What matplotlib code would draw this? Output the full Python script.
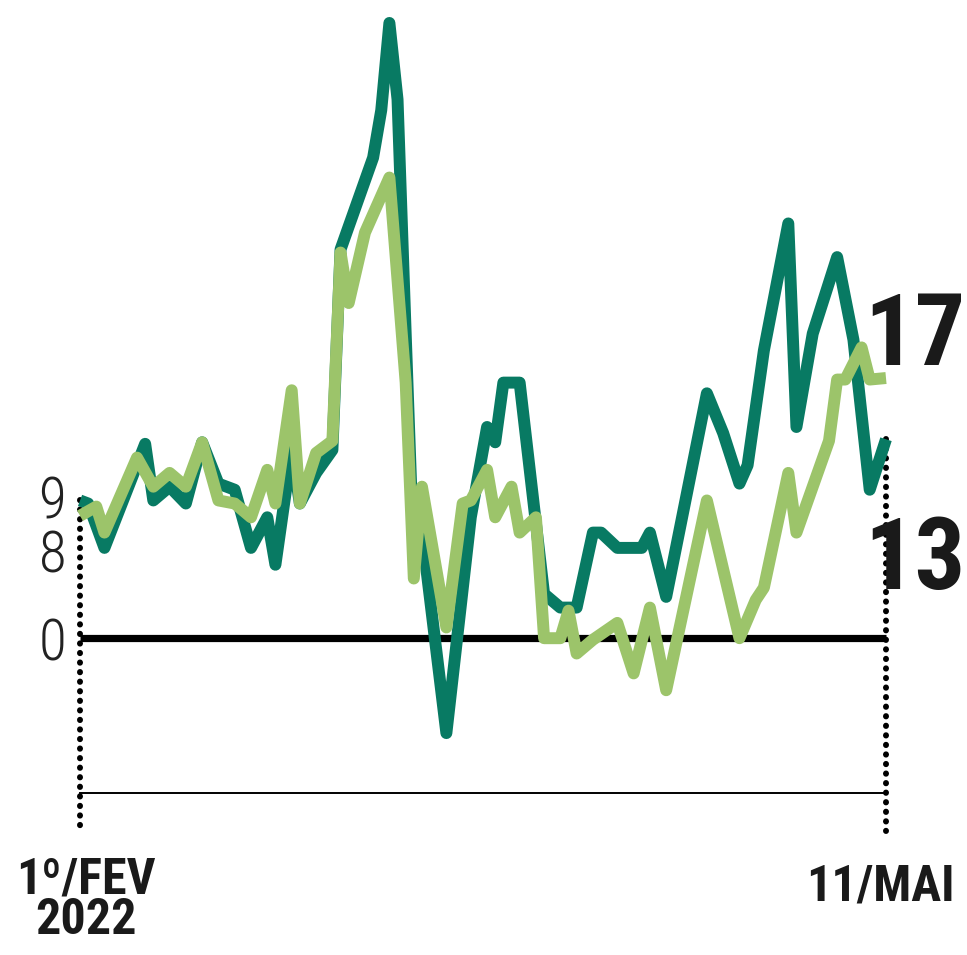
import matplotlib
matplotlib.use("Agg")
import matplotlib.pyplot as plt
import pandas as pd

# Série escura: dias corridos desde 1º/fev/2022 e valores
dias_escura = [0, 1, 3, 8, 9, 11, 13, 15, 17, 19, 21, 23, 24, 26, 27, 29, 31, 32,
               36, 37, 38, 39, 40, 41, 42, 45, 48, 50, 51, 52, 54, 57, 59, 61, 63,
               64, 66, 69, 70, 72, 77, 79, 81, 82, 84, 87, 88, 90, 93, 95, 97, 99]
valores_escura = [9.0, 8.8, 5.9, 12.7, 9.0, 9.9, 8.8, 12.8, 10.1, 9.7, 5.9, 7.9,
                  4.8, 12.3, 8.8, 10.8, 12.3, 25.4, 31.4, 34.5, 40.2, 35.2, 19.9,
                  5.1, 6.9, -6.2, 7.9, 13.8, 12.8, 16.7, 16.7, 2.9, 2.0, 2.0, 6.9,
                  6.9, 5.9, 5.9, 6.9, 2.7, 16.0, 13.4, 10.1, 11.3, 18.8, 27.1, 13.8,
                  19.9, 24.9, 19.5, 9.7, 13.0]

# Série clara
dias_clara = [0, 2, 3, 7, 9, 11, 13, 15, 17, 19, 21, 23, 24, 26, 27, 29, 31, 32,
              33, 35, 38, 40, 41, 42, 45, 47, 48, 50, 51, 53, 54, 56, 57, 59, 60,
              61, 63, 66, 68, 70, 72, 77, 81, 83, 84, 87, 88, 92, 93, 94, 96, 97, 99]
valores_clara = [8.0, 8.6, 6.9, 11.8, 9.9, 10.8, 9.9, 12.8, 9.0, 8.8, 7.9, 11.0,
                 8.8, 16.2, 8.8, 12.1, 12.9, 25.2, 21.9, 26.5, 30.1, 16.7, 3.9,
                 9.9, 0.7, 8.8, 9.0, 11.0, 7.9, 9.9, 6.9, 7.9, 0.0, 0.0, 1.8, -1.0,
                 -0.1, 1.0, -2.3, 2.0, -3.4, 9.0, 0.0, 2.5, 3.3, 10.8, 6.9, 12.9,
                 16.9, 16.9, 19.0, 16.9, 17.0]

inicio = pd.Timestamp("2022-02-01")
fim = pd.Timestamp("2022-05-11")
rotulo_inicio = "1º/FEV\n2022"
rotulo_fim = "11/MAI"

datas_escura = inicio + pd.to_timedelta(dias_escura, unit="D")
datas_clara = inicio + pd.to_timedelta(dias_clara, unit="D")

COR_ESCURA = "#087a63"
COR_CLARA = "#9cc46a"
COR_TEXTO = "#1a1a1a"

fig = plt.figure(figsize=(9.67, 9.55), dpi=100)
ax = fig.add_axes([0, 0, 1, 1])
ax.set_axis_off()

ax.set_xlim(inicio - pd.Timedelta(days=9.83), inicio + pd.Timedelta(days=108.95))
ax.set_ylim(-20.7, 41.7)

# Linha do zero e linha de base
ax.plot([inicio, fim], [0, 0], color="black", lw=5.2, solid_capstyle="butt", zorder=2)
ax.plot([inicio, fim], [-10.1, -10.1], color="black", lw=1.4, zorder=2)

# Guias pontilhadas nas extremidades
pont = dict(color="black", lw=4.3, linestyle=(0, (0.05, 1.55)),
            dash_capstyle="round", zorder=1)
ax.plot([inicio, inicio], [valores_escura[0], -12.6], **pont)
ax.plot([fim, fim], [valores_escura[-1], -12.6], **pont)

# Séries
ax.plot(datas_escura, valores_escura, color=COR_ESCURA, lw=8.6,
        solid_joinstyle="round", solid_capstyle="butt", zorder=3)
ax.plot(datas_clara, valores_clara, color=COR_CLARA, lw=8.6,
        solid_joinstyle="round", solid_capstyle="butt", zorder=4)

# Valores iniciais à esquerda
fonte_fina = dict(family=["Roboto Condensed", "Roboto", "DejaVu Sans"],
                  weight="light", fontsize=41, color="#222222",
                  ha="right", va="baseline", textcoords="offset points")
ax.annotate(f"{valores_escura[0]:.0f}", (inicio, valores_escura[0]),
            xytext=(-10, -13), **fonte_fina)
ax.annotate(f"{valores_clara[0]:.0f}", (inicio, valores_clara[0]),
            xytext=(-10, -41), **fonte_fina)
ax.annotate("0", (inicio, 0), xytext=(-10, -16), **fonte_fina)

# Valores finais à direita
fonte_grossa = dict(family=["Roboto Condensed", "Barlow Condensed",
                            "Saira SemiCondensed", "DejaVu Sans"],
                    weight=900, fontsize=72, color=COR_TEXTO,
                    ha="left", va="baseline", textcoords="offset points")
ax.annotate(f"{valores_clara[-1]:.0f}", (fim, valores_clara[-1]),
            xytext=(-16, 9.5), **fonte_grossa)
ax.annotate(f"{valores_escura[-1]:.0f}", (fim, valores_escura[-1]),
            xytext=(-16, -108), **fonte_grossa)

# Datas
fonte_data = dict(family=["Roboto Condensed", "Barlow Condensed",
                          "Saira SemiCondensed", "DejaVu Sans"],
                  weight=900, fontsize=36, color=COR_TEXTO,
                  ha="center", textcoords="offset points")
ax.annotate(rotulo_inicio, (inicio, -12.6), xytext=(4, -18), va="top",
            linespacing=0.85, **fonte_data)
ax.annotate(rotulo_fim, (fim, -12.6), xytext=(-4, -50), va="baseline",
            **fonte_data)

fig.savefig("out.png", dpi=100, facecolor="white")
